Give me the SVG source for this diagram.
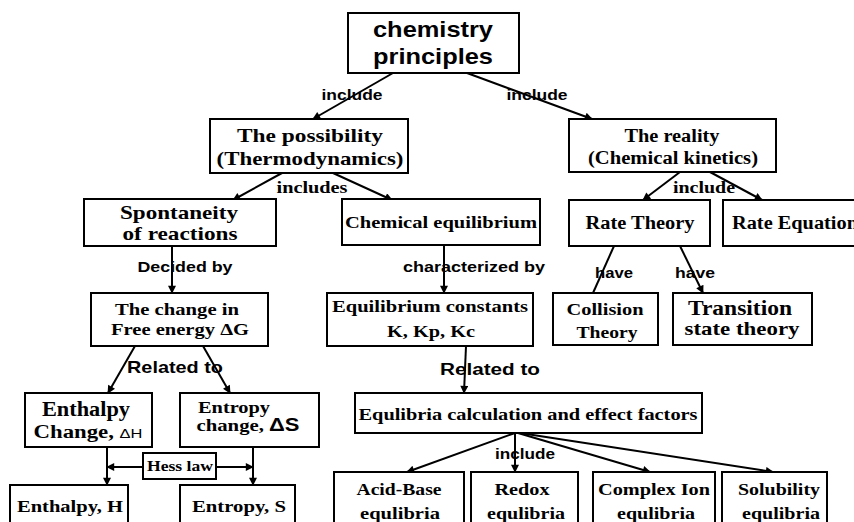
<svg xmlns="http://www.w3.org/2000/svg" width="854" height="522" viewBox="0 0 854 522">
<defs>
<style>
.box{fill:#fff;stroke:#000;stroke-width:2}
.s{font-family:"Liberation Serif","Times New Roman",serif;font-weight:bold;fill:#000;text-anchor:middle}
.a{font-family:"Liberation Sans",Arial,sans-serif;font-weight:bold;fill:#000;text-anchor:middle}
.ln{stroke:#000;stroke-width:2;fill:none}
.ar{stroke:#000;stroke-width:2;fill:none;marker-end:url(#ah)}
</style>
<marker id="ah" viewBox="0 0 10 10" refX="9" refY="5" markerWidth="9" markerHeight="8" markerUnits="userSpaceOnUse" orient="auto">
<path d="M0,0 L10,5 L0,10 z" fill="#000"/>
</marker>
</defs>
<rect width="854" height="522" fill="#fff"/>

<g id="connectors">
<line class="ar" x1="393" y1="73" x2="313" y2="119"/>
<line class="ar" x1="467" y1="73" x2="592" y2="119"/>
<line class="ar" x1="282" y1="173" x2="233" y2="200"/>
<line class="ar" x1="333" y1="173" x2="392" y2="200"/>
<line class="ar" x1="680" y1="172" x2="643" y2="200"/>
<line class="ar" x1="710" y1="172" x2="762" y2="200"/>
<line class="ln" x1="614" y1="246" x2="593" y2="293"/>
<line class="ar" x1="680" y1="246" x2="703" y2="293"/>
<line class="ar" x1="172" y1="246" x2="172" y2="293"/>
<line class="ar" x1="135" y1="346" x2="108" y2="393"/>
<line class="ar" x1="203" y1="346" x2="230" y2="393"/>
<line class="ar" x1="107" y1="447" x2="107" y2="485"/>
<line class="ar" x1="253" y1="447" x2="253" y2="485"/>
<line class="ar" x1="143" y1="467" x2="107" y2="467"/>
<line class="ar" x1="216" y1="467" x2="253" y2="467"/>
<line class="ar" x1="444" y1="245" x2="444" y2="293"/>
<line class="ar" x1="466" y1="346" x2="464" y2="393"/>
<line class="ar" x1="515" y1="433" x2="407" y2="472"/>
<line class="ar" x1="515" y1="433" x2="515" y2="472"/>
<line class="ar" x1="518" y1="433" x2="650" y2="472"/>
<line class="ar" x1="520" y1="433" x2="773" y2="472"/>
</g>

<g id="labels">
<text class="a" x="352" y="100" font-size="15" textLength="61" lengthAdjust="spacingAndGlyphs">include</text>
<text class="a" x="537" y="100" font-size="15" textLength="61" lengthAdjust="spacingAndGlyphs">include</text>
<text class="s" x="312" y="193" font-size="16" textLength="71" lengthAdjust="spacingAndGlyphs">includes</text>
<text class="s" x="704" y="193" font-size="16" textLength="62" lengthAdjust="spacingAndGlyphs">include</text>
<text class="a" x="614" y="278" font-size="14" textLength="38" lengthAdjust="spacingAndGlyphs">have</text>
<text class="a" x="695" y="278" font-size="14" textLength="40" lengthAdjust="spacingAndGlyphs">have</text>
<text class="a" x="185" y="272" font-size="14" textLength="95" lengthAdjust="spacingAndGlyphs">Decided by</text>
<text class="a" x="175" y="373" font-size="17" textLength="96" lengthAdjust="spacingAndGlyphs">Related to</text>
<text class="a" x="474" y="272" font-size="14" textLength="142" lengthAdjust="spacingAndGlyphs">characterized by</text>
<text class="a" x="490" y="375" font-size="16" textLength="100" lengthAdjust="spacingAndGlyphs">Related to</text>
<text class="a" x="525" y="459" font-size="14" textLength="60" lengthAdjust="spacingAndGlyphs">include</text>
</g>

<g id="n-chem">
<rect class="box" x="348" y="13" width="171" height="60"/>
<text class="a" x="433" y="37" font-size="22" textLength="120" lengthAdjust="spacingAndGlyphs">chemistry</text>
<text class="a" x="433" y="64" font-size="22" textLength="120" lengthAdjust="spacingAndGlyphs">principles</text>
</g>

<g id="n-possibility">
<rect class="box" x="210" y="119" width="198" height="54"/>
<text class="s" x="310" y="142" font-size="19" textLength="146" lengthAdjust="spacingAndGlyphs">The possibility</text>
<text class="s" x="310" y="165" font-size="19" textLength="187" lengthAdjust="spacingAndGlyphs">(Thermodynamics)</text>
</g>

<g id="n-reality">
<rect class="box" x="569" y="119" width="207" height="53"/>
<text class="s" x="672" y="142" font-size="18" textLength="95" lengthAdjust="spacingAndGlyphs">The reality</text>
<text class="s" x="673" y="164" font-size="18" textLength="170" lengthAdjust="spacingAndGlyphs">(Chemical kinetics)</text>
</g>

<g id="n-spont">
<rect class="box" x="84" y="199" width="192" height="47"/>
<text class="s" x="179" y="219" font-size="19" textLength="118" lengthAdjust="spacingAndGlyphs">Spontaneity</text>
<text class="s" x="180" y="240" font-size="19" textLength="115" lengthAdjust="spacingAndGlyphs">of reactions</text>
</g>

<g id="n-cheq">
<rect class="box" x="342" y="199" width="198" height="46"/>
<text class="s" x="441" y="228" font-size="17" textLength="192" lengthAdjust="spacingAndGlyphs">Chemical equilibrium</text>
</g>

<g id="n-ratetheory">
<rect class="box" x="569" y="200" width="141" height="46"/>
<text class="s" x="640" y="229" font-size="18" textLength="109" lengthAdjust="spacingAndGlyphs">Rate Theory</text>
</g>

<g id="n-rateeq">
<rect class="box" x="723" y="200" width="150" height="46"/>
<text class="s" x="732" y="229" font-size="18" style="text-anchor:start" textLength="126" lengthAdjust="spacingAndGlyphs">Rate Equation</text>
</g>

<g id="n-collision">
<rect class="box" x="553" y="293" width="105" height="52"/>
<text class="s" x="605" y="315" font-size="17" textLength="77" lengthAdjust="spacingAndGlyphs">Collision</text>
<text class="s" x="607" y="338" font-size="17" textLength="61" lengthAdjust="spacingAndGlyphs">Theory</text>
</g>

<g id="n-transition">
<rect class="box" x="673" y="293" width="139" height="52"/>
<text class="s" x="740" y="315" font-size="20" textLength="104" lengthAdjust="spacingAndGlyphs">Transition</text>
<text class="s" x="742" y="335" font-size="19" textLength="115" lengthAdjust="spacingAndGlyphs">state theory</text>
</g>

<g id="n-freeenergy">
<rect class="box" x="91" y="293" width="177" height="53"/>
<text class="s" x="177" y="315" font-size="17" textLength="124" lengthAdjust="spacingAndGlyphs">The change in</text>
<text class="s" x="180" y="335" font-size="17" textLength="138" lengthAdjust="spacingAndGlyphs">Free energy ΔG</text>
</g>

<g id="n-eqconst">
<rect class="box" x="327" y="293" width="206" height="53"/>
<text class="s" x="430" y="312" font-size="17" textLength="196" lengthAdjust="spacingAndGlyphs">Equilibrium constants</text>
<text class="s" x="431" y="337" font-size="17" textLength="88" lengthAdjust="spacingAndGlyphs">K, Kp, Kc</text>
</g>

<g id="n-enthalpychange">
<rect class="box" x="25" y="393" width="127" height="54"/>
<text class="s" x="86" y="416" font-size="20" textLength="88" lengthAdjust="spacingAndGlyphs">Enthalpy</text>
<text class="s" x="88" y="438" font-size="18" textLength="109" lengthAdjust="spacingAndGlyphs">Change, <tspan font-family="Liberation Sans, Arial, sans-serif" font-weight="normal" font-size="13">ΔH</tspan></text>
</g>

<g id="n-entropychange">
<rect class="box" x="180" y="393" width="139" height="54"/>
<text class="s" x="234" y="413" font-size="17" textLength="72" lengthAdjust="spacingAndGlyphs">Entropy</text>
<text class="s" x="248" y="431" font-size="17" textLength="103" lengthAdjust="spacingAndGlyphs">change, <tspan font-family="Liberation Sans, Arial, sans-serif" font-size="18">ΔS</tspan></text>
</g>

<g id="n-hess">
<rect class="box" x="143" y="453" width="73" height="26"/>
<text class="s" x="180" y="471" font-size="15" textLength="66" lengthAdjust="spacingAndGlyphs">Hess law</text>
</g>

<g id="n-enthalpy">
<rect class="box" x="10" y="485" width="118" height="50"/>
<text class="s" x="70" y="512" font-size="17" textLength="106" lengthAdjust="spacingAndGlyphs">Enthalpy, H</text>
</g>

<g id="n-entropy">
<rect class="box" x="180" y="485" width="115" height="50"/>
<text class="s" x="239" y="512" font-size="17" textLength="94" lengthAdjust="spacingAndGlyphs">Entropy, S</text>
</g>

<g id="n-eqcalc">
<rect class="box" x="355" y="393" width="347" height="40"/>
<text class="s" x="528" y="420" font-size="16" textLength="339" lengthAdjust="spacingAndGlyphs">Equlibria calculation and effect factors</text>
</g>

<g id="n-acidbase">
<rect class="box" x="334" y="472" width="130" height="60"/>
<text class="s" x="399" y="495" font-size="16" textLength="85" lengthAdjust="spacingAndGlyphs">Acid-Base</text>
<text class="s" x="400" y="519" font-size="16" textLength="80" lengthAdjust="spacingAndGlyphs">equlibria</text>
</g>

<g id="n-redox">
<rect class="box" x="471" y="472" width="107" height="60"/>
<text class="s" x="522" y="495" font-size="16" textLength="55" lengthAdjust="spacingAndGlyphs">Redox</text>
<text class="s" x="526" y="519" font-size="16" textLength="78" lengthAdjust="spacingAndGlyphs">equlibria</text>
</g>

<g id="n-complex">
<rect class="box" x="593" y="472" width="122" height="60"/>
<text class="s" x="654" y="495" font-size="16" textLength="112" lengthAdjust="spacingAndGlyphs">Complex Ion</text>
<text class="s" x="656" y="519" font-size="16" textLength="78" lengthAdjust="spacingAndGlyphs">equlibria</text>
</g>

<g id="n-solubility">
<rect class="box" x="722" y="472" width="105" height="60"/>
<text class="s" x="779" y="495" font-size="16" textLength="82" lengthAdjust="spacingAndGlyphs">Solubility</text>
<text class="s" x="781" y="519" font-size="16" textLength="78" lengthAdjust="spacingAndGlyphs">equlibria</text>
</g>
</svg>
